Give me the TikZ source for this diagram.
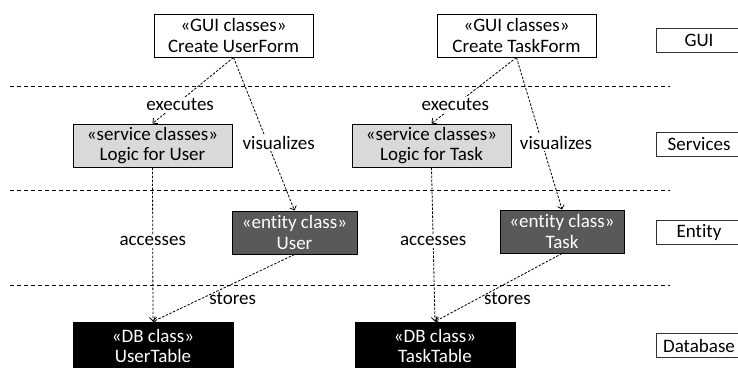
\documentclass[tikz,border=0pt]{standalone}
\usepackage{fontspec}
\setmainfont{Carlito}[Ligatures=NoCommon]
\usepackage{xcolor}
\usetikzlibrary{arrows.meta,positioning,calc}

\definecolor{servicegray}{RGB}{217,217,217}
\definecolor{entitygray}{RGB}{89,89,89}

\tikzset{
  classbox/.style={draw=black, line width=1pt, minimum width=159pt, minimum height=43pt,
    inner sep=0pt, align=center},
  guiclass/.style={classbox, fill=white},
  serviceclass/.style={classbox, fill=servicegray},
  entityclass/.style={classbox, fill=entitygray, text=white, minimum width=125pt},
  dbclass/.style={classbox, fill=black, text=white, minimum width=160pt, minimum height=48pt},
  layerbox/.style={draw=black!80, line width=0.9pt, minimum width=86pt, minimum height=24pt, inner sep=0pt},
  conn/.style={->, >={Straight Barb[length=3.5pt,width=7pt]}, dash pattern=on 2.5pt off 1.5pt, line width=0.8pt},
  lbl/.style={fill=white, inner sep=1.5pt},
  sep/.style={dash pattern=on 4pt off 3pt, line width=0.8pt}
}

\begin{document}
\begin{tikzpicture}[x=1pt, y=-1pt, font=\fontsize{19}{20.5}\selectfont]
\useasboundingbox (0,0) rectangle (738,367);

% Layer separators
\draw[sep] (10,86) -- (670,86);
\draw[sep] (10,190) -- (670,190);
\draw[sep] (10,285) -- (670,285);

% Layers
\node[layerbox] (gui) at (699,40) {GUI};
\node[layerbox] (services) at (699,144.5) {Services};
\node[layerbox] (entity) at (699,232.5) {Entity};
\node[layerbox] (database) at (699,345.5) {Database};

% User classes
\node[guiclass] (userform) at (233.5,35.5) {«GUI classes»\\Create UserForm};
\node[serviceclass] (userlogic) at (152.5,145.5) {«service classes»\\Logic for User};
\node[entityclass] (user) at (294.5,232.5) {«entity class»\\User};
\node[dbclass] (usertable) at (153,346) {«DB class»\\UserTable};

% Task classes
\node[guiclass] (taskform) at (516.5,35.5) {«GUI classes»\\Create TaskForm};
\node[serviceclass] (tasklogic) at (431.5,145.5) {«service classes»\\Logic for Task};
\node[entityclass, minimum width=124pt] (task) at (562,231.5) {«entity class»\\Task};
\node[dbclass] (tasktable) at (435,346) {«DB class»\\TaskTable};

% Dependencies
\draw[conn] (userform.south) -- node[lbl, pos=0.72, xshift=5pt] {executes} (userlogic.north);
\draw[conn] (userform.south) -- node[lbl, pos=0.56, xshift=11pt] {visualizes} (user.north);
\draw[conn] (userlogic.south) -- node[lbl, pos=0.48] {accesses} (usertable.north);
\draw[conn] (user.south) -- node[midway, xshift=9pt, yshift=-11pt] {stores} (usertable.north);

\draw[conn] (taskform.south) -- node[lbl, pos=0.72] {executes} (tasklogic.north);
\draw[conn] (taskform.south) -- node[lbl, pos=0.56, xshift=14pt] {visualizes} (task.north);
\draw[conn] (tasklogic.south) -- node[lbl, pos=0.48] {accesses} (tasktable.north);
\draw[conn] (task.south) -- node[midway, xshift=9pt, yshift=-11pt] {stores} (tasktable.north);

\end{tikzpicture}
\end{document}
